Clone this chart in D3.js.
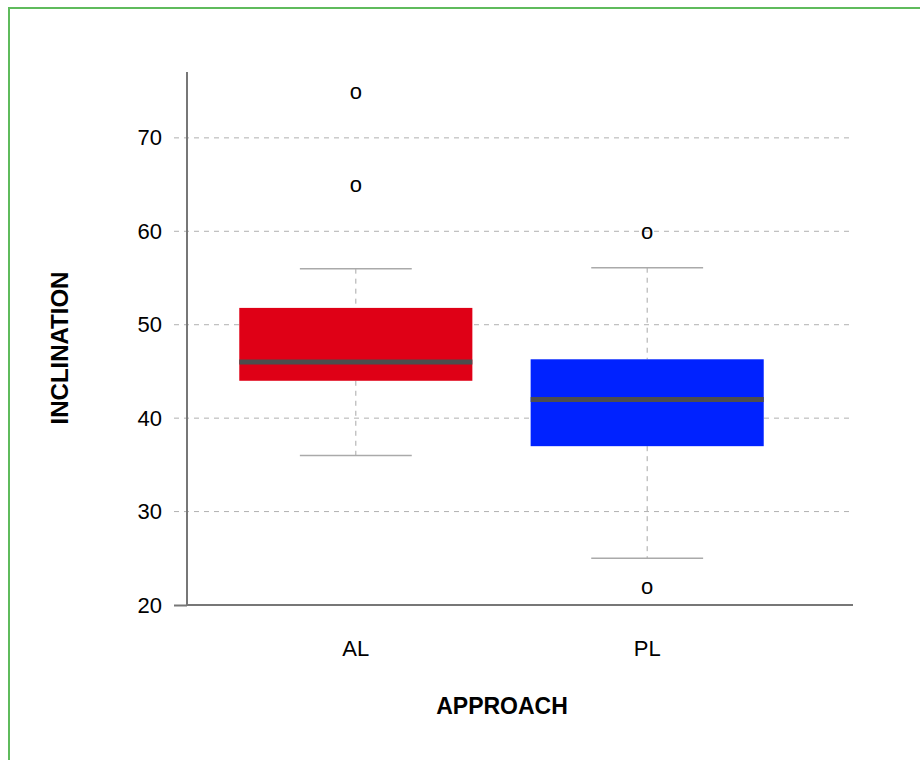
<!DOCTYPE html>
<html>
<head>
<meta charset="utf-8">
<script src="https://cdn.jsdelivr.net/npm/d3@7"></script>
<style>
  body { margin: 0; background: #fff; }
  svg { display: block; font-family: "Liberation Sans", Arial, Helvetica, sans-serif; }
</style>
</head>
<body>
<svg id="chart" width="920" height="760"></svg>
<script>
"use strict";

// Données
var approaches = ["AL", "PL"];
var whiskerLow  = [36, 25];
var quartile1   = [44, 37];
var medians     = [46, 42];
var quartile3   = [51.8, 46.3];
var whiskerHigh = [56, 56.1];
var outliers    = [[75, 65], [60, 22]];
var boxColors   = ["#df0016", "#0022ff"];
var yTicks      = [20, 30, 40, 50, 60, 70];

var svg = d3.select("#chart");

// cadre vert
svg.append("rect")
  .attr("x", 9).attr("y", 8)
  .attr("width", 940).attr("height", 800)
  .attr("fill", "none")
  .attr("stroke", "#5fbb5c")
  .attr("stroke-width", 2);

var plotLeft = 187, plotRight = 853, plotTop = 72, plotBottom = 605;

var y = d3.scaleLinear().domain([20, 77.05]).range([plotBottom, plotTop]);
var x = d3.scaleBand().domain(approaches)
  .range([181, 822])
  .paddingInner(0.2)
  .paddingOuter(0.2);

// grille
svg.append("g")
  .selectAll("line")
  .data(yTicks.filter(d => d > 20))
  .enter()
  .append("line")
  .attr("x1", 174).attr("x2", plotRight)
  .attr("y1", d => y(d)).attr("y2", d => y(d))
  .attr("stroke", "#b0b0b0")
  .attr("stroke-width", 1)
  .attr("stroke-dasharray", "5,5");

// axe Y
var yAxis = d3.axisLeft(y).tickValues(yTicks).tickSize(13).tickPadding(12);
var gy = svg.append("g").attr("transform", "translate(" + plotLeft + ",0)").call(yAxis);
gy.select(".domain").remove();
gy.selectAll(".tick line").attr("stroke", d => d === 20 ? "#777" : "none").attr("stroke-width", 2);
gy.selectAll(".tick text")
  .attr("font-size", 22)
  .attr("fill", "#000")
  .attr("font-family", "Liberation Sans, Arial, sans-serif");

// boîtes
var boxes = svg.append("g")
  .selectAll("g")
  .data(approaches)
  .enter()
  .append("g");

var bw = x.bandwidth();
var cx = d => x(d) + bw / 2;

// moustaches (traits pointillés)
boxes.append("line")
  .attr("x1", cx).attr("x2", cx)
  .attr("y1", (d, i) => y(whiskerHigh[i]))
  .attr("y2", (d, i) => y(quartile3[i]))
  .attr("stroke", "#a8a8a8").attr("stroke-dasharray", "5,5");
boxes.append("line")
  .attr("x1", cx).attr("x2", cx)
  .attr("y1", (d, i) => y(quartile1[i]))
  .attr("y2", (d, i) => y(whiskerLow[i]))
  .attr("stroke", "#a8a8a8").attr("stroke-dasharray", "5,5");

// extrémités
boxes.append("line")
  .attr("x1", d => cx(d) - bw * 0.24).attr("x2", d => cx(d) + bw * 0.24)
  .attr("y1", (d, i) => y(whiskerHigh[i])).attr("y2", (d, i) => y(whiskerHigh[i]))
  .attr("stroke", "#aaa").attr("stroke-width", 1.5);
boxes.append("line")
  .attr("x1", d => cx(d) - bw * 0.24).attr("x2", d => cx(d) + bw * 0.24)
  .attr("y1", (d, i) => y(whiskerLow[i])).attr("y2", (d, i) => y(whiskerLow[i]))
  .attr("stroke", "#aaa").attr("stroke-width", 1.5);

boxes.append("rect")
  .attr("x", d => x(d))
  .attr("width", bw)
  .attr("y", (d, i) => y(quartile3[i]))
  .attr("height", (d, i) => y(quartile1[i]) - y(quartile3[i]))
  .attr("fill", (d, i) => boxColors[i]);

boxes.append("line")
  .attr("x1", d => x(d)).attr("x2", d => x(d) + bw)
  .attr("y1", (d, i) => y(medians[i])).attr("y2", (d, i) => y(medians[i]))
  .attr("stroke", "#4d4d4d").attr("stroke-width", 5);

// valeurs aberrantes
boxes.each(function(d, i) {
  d3.select(this).selectAll("text.out")
    .data(outliers[i])
    .enter()
    .append("text")
    .attr("class", "out")
    .attr("x", cx(d))
    .attr("y", v => y(v))
    .attr("dy", "0.35em")
    .attr("text-anchor", "middle")
    .attr("font-size", 22)
    .text("o");
});

// lignes d'axes
svg.append("line")
  .attr("x1", plotLeft).attr("x2", plotLeft).attr("y1", plotTop).attr("y2", plotBottom + 1)
  .attr("stroke", "#777").attr("stroke-width", 2);
svg.append("line")
  .attr("x1", plotLeft).attr("x2", plotRight).attr("y1", plotBottom).attr("y2", plotBottom)
  .attr("stroke", "#777").attr("stroke-width", 2);

// étiquettes X
svg.append("g")
  .selectAll("text")
  .data(approaches)
  .enter()
  .append("text")
  .attr("x", cx)
  .attr("y", 656)
  .attr("text-anchor", "middle")
  .attr("font-size", 22)
  .text(d => d);

// titres
svg.append("text")
  .attr("x", 502).attr("y", 714)
  .attr("text-anchor", "middle")
  .attr("font-size", 23).attr("font-weight", "bold")
  .text("APPROACH");

svg.append("text")
  .attr("transform", "translate(68,348) rotate(-90)")
  .attr("text-anchor", "middle")
  .attr("font-size", 24).attr("font-weight", "bold")
  .text("INCLINATION");
</script>
</body>
</html>
